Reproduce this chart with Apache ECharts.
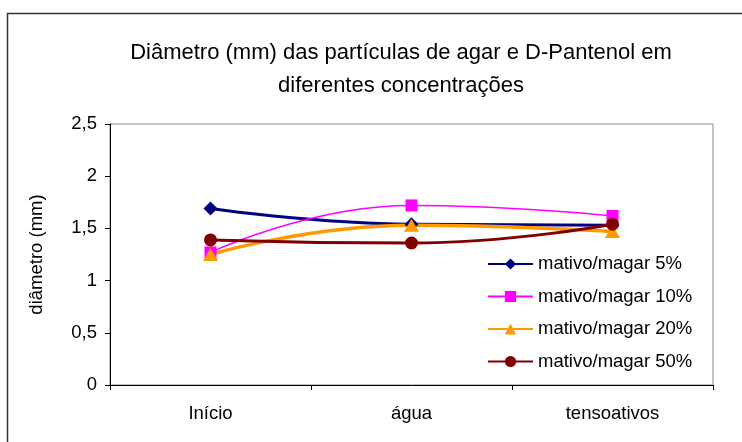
<!DOCTYPE html>
<html>
<head>
<meta charset="utf-8">
<script src="https://cdn.jsdelivr.net/npm/echarts@6/dist/echarts.min.js"></script>
<style>
html,body{margin:0;padding:0;background:#fff;}
#chart{width:742px;height:442px;}
</style>
</head>
<body>
<div id="chart"></div>
<script>
var categories = ['Início', 'água', 'tensoativos'];
var seriesNames = ['mativo/magar 5%', 'mativo/magar 10%', 'mativo/magar 20%', 'mativo/magar 50%'];
var values5 = [1.69, 1.54, 1.53];
var values10 = [1.27, 1.72, 1.62];
var values20 = [1.25, 1.53, 1.47];
var values50 = [1.39, 1.36, 1.54];
var yTicks = [0, 0.5, 1, 1.5, 2, 2.5];
var titleText = 'Diâmetro (mm) das partículas de agar e D-Pantenol em\ndiferentes concentrações';
var yAxisName = 'diâmetro (mm)';

var font = 'Liberation Sans, Arial, sans-serif';
var chart = echarts.init(document.getElementById('chart'), null, {renderer: 'canvas'});

function mk(name, data, color, width, symbol, size) {
  return {
    name: name, type: 'line', data: data, smooth: 0.5,
    symbol: symbol, symbolSize: size, showSymbol: true,
    lineStyle: {color: color, width: width},
    itemStyle: {color: color, borderWidth: 0},
    emphasis: {disabled: true}
  };
}

chart.setOption({
  animation: false,
  backgroundColor: '#fff',
  graphic: [{
    type: 'rect', silent: true, z: -1,
    shape: {x: 7.5, y: 13.5, width: 900, height: 600},
    style: {fill: 'none', stroke: '#333', lineWidth: 1.5}
  }],
  title: {
    text: titleText,
    left: 396, top: 31, textAlign: 'center',
    textStyle: {fontFamily: font, fontSize: 22, fontWeight: 'normal', color: '#000', lineHeight: 33}
  },
  grid: {
    left: 110, top: 124, width: 603, height: 261,
    show: true, borderColor: '#888', borderWidth: 1, backgroundColor: 'transparent'
  },
  legend: {
    orient: 'vertical', left: 482, top: 249,
    itemWidth: 45, itemHeight: 14, itemGap: 12.5,
    data: seriesNames,
    textStyle: {fontFamily: font, fontSize: 18.5, color: '#000', lineHeight: 20}
  },
  xAxis: {
    type: 'category', data: categories, boundaryGap: true,
    axisLine: {lineStyle: {color: '#000', width: 1}},
    axisTick: {show: true, length: 5, inside: false, lineStyle: {color: '#000'}},
    axisLabel: {fontFamily: font, fontSize: 18.5, color: '#000', margin: 19},
    splitLine: {show: false}
  },
  yAxis: {
    type: 'value', min: 0, max: 2.5, interval: 0.5,
    name: yAxisName, nameLocation: 'middle', nameRotate: 90, nameGap: 64,
    nameTextStyle: {fontFamily: font, fontSize: 18.5, color: '#000'},
    axisLine: {show: true, lineStyle: {color: '#000', width: 1}},
    axisTick: {show: true, length: 5, lineStyle: {color: '#000'}},
    axisLabel: {
      fontFamily: font, fontSize: 18.5, color: '#000', margin: 13,
      formatter: function (v) { return String(v).replace('.', ','); }
    },
    splitLine: {show: false}
  },
  series: [
    mk(seriesNames[0], values5, '#000080', 3, 'diamond', [14, 14]),
    mk(seriesNames[1], values10, '#FF00FF', 1.5, 'rect', 12),
    mk(seriesNames[2], values20, '#FF9900', 3.5, 'triangle', [15, 13]),
    mk(seriesNames[3], values50, '#800000', 3, 'circle', 13)
  ]
});
</script>
</body>
</html>
